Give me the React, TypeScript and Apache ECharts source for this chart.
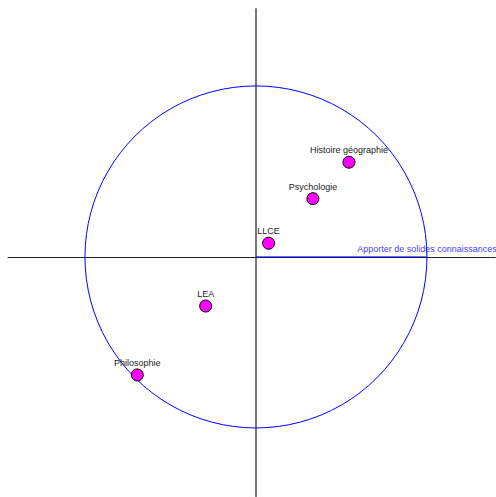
import React, { useEffect, useRef } from "react";
import * as echarts from "echarts";

const pointNames = ["Histoire géographie", "Psychologie", "LLCE", "LEA", "Philosophie"];
const pointX = [0.544, 0.333, 0.074, -0.294, -0.694];
const pointY = [0.554, 0.341, 0.08, -0.287, -0.69];

const vectorName = "Apporter de solides connaissances";
const vectorX = [0, 1];
const vectorY = [0, 0];

const circleRadius = [1];

export default function App() {
  const ref = useRef<HTMLDivElement>(null);
  useEffect(() => {
    if (!ref.current) return;
    const chart = echarts.init(ref.current, undefined, { renderer: "svg" });
    const font = "'Liberation Sans', Arial, sans-serif";
    chart.setOption({
      animation: false,
      grid: { left: 8, top: 9, width: 487.35, height: 487.35, containLabel: false },
      xAxis: {
        type: "value",
        min: -1.45,
        max: 1.4,
        axisLine: { onZero: true, lineStyle: { color: "#222", width: 1 } },
        axisTick: { show: false },
        axisLabel: { show: false },
        splitLine: { show: false },
      },
      yAxis: {
        type: "value",
        min: -1.4,
        max: 1.45,
        axisLine: { onZero: true, lineStyle: { color: "#777", width: 2 } },
        axisTick: { show: false },
        axisLabel: { show: false },
        splitLine: { show: false },
      },
      series: [
        {
          type: "custom",
          silent: true,
          data: circleRadius.map((r) => [0, 0, r]),
          renderItem: (params: any, api: any) => {
            const c = api.coord([api.value(0), api.value(1)]);
            const s = api.size([api.value(2), api.value(2)]);
            return {
              type: "circle",
              shape: { cx: c[0], cy: c[1], r: s[0] },
              style: { fill: "none", stroke: "#0000ff", lineWidth: 1 },
            };
          },
          z: 1,
        },
        {
          type: "line",
          data: vectorX.map((x, i) => [x, vectorY[i]]),
          showSymbol: false,
          lineStyle: { color: "#0000ff", width: 1 },
          z: 3,
        },
        {
          type: "scatter",
          data: [[vectorX[1], vectorY[1]]],
          symbolSize: 0,
          label: {
            show: true,
            position: "top",
            distance: 3,
            formatter: vectorName,
            color: "#0000ff",
            fontSize: 9,
            fontFamily: font,
          },
          z: 4,
        },
        {
          type: "scatter",
          data: pointNames.map((n, i) => ({ name: n, value: [pointX[i], pointY[i]] })),
          symbol: "circle",
          symbolSize: 12,
          itemStyle: { color: "#ff00ff", borderColor: "#000", borderWidth: 1, opacity: 1 },
          label: {
            show: true,
            position: "top",
            distance: 1,
            formatter: "{b}",
            color: "#222",
            fontSize: 9,
            fontFamily: font,
          },
          z: 5,
        },
      ],
    });
    return () => chart.dispose();
  }, []);
  return <div ref={ref} style={{ width: 496, height: 497, position: "absolute", left: 0, top: 0 }} />;
}
